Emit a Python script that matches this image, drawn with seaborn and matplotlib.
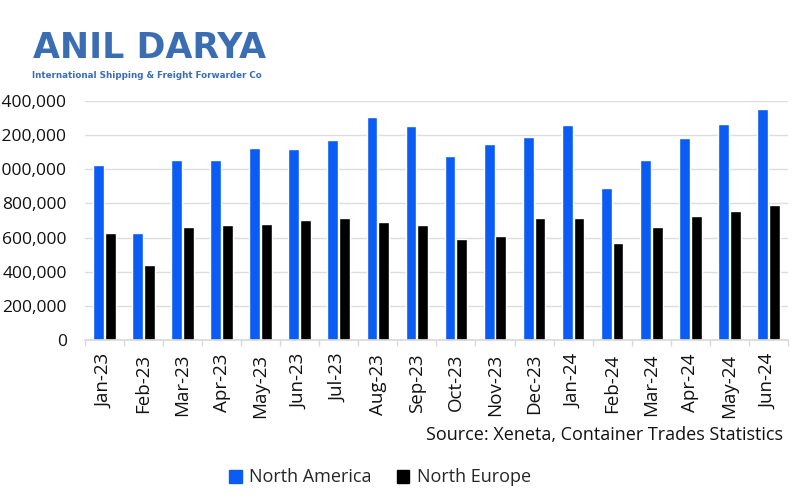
import matplotlib
matplotlib.use("Agg")
import matplotlib.pyplot as plt
import seaborn as sns
import pandas as pd
from matplotlib.ticker import FuncFormatter
from matplotlib.patches import Patch

months = ["Jan-23", "Feb-23", "Mar-23", "Apr-23", "May-23", "Jun-23", "Jul-23", "Aug-23",
          "Sep-23", "Oct-23", "Nov-23", "Dec-23", "Jan-24", "Feb-24", "Mar-24", "Apr-24",
          "May-24", "Jun-24"]
north_america = [1025000, 627000, 1054000, 1054000, 1125000, 1119000, 1172000, 1306000,
                 1254000, 1078000, 1148000, 1191000, 1261000, 890000, 1054000, 1181000,
                 1265000, 1353000]
north_europe = [629000, 437000, 660000, 674000, 678000, 703000, 713000, 689000,
                674000, 590000, 609000, 713000, 713000, 566000, 660000, 728000,
                757000, 793000]
series = ["North America", "North Europe"]
colors = ["#0b5cf5", "#000000"]

df = pd.DataFrame({
    "month": months * 2,
    "value": north_america + north_europe,
    "series": [series[0]] * len(months) + [series[1]] * len(months),
})

sns.set_theme(style="white")
plt.rcParams["font.family"] = ["Open Sans", "DejaVu Sans"]

fig = plt.figure(figsize=(8, 5), dpi=100)
ax = fig.add_axes([0.106, 0.32, 0.879, 0.478])

sns.barplot(data=df, x="month", y="value", hue="series", palette=colors,
            width=0.6, gap=0.08, saturation=1, ax=ax, legend=False)

ax.set_ylim(0, 1400000)
ax.set_yticks(range(0, 1400001, 200000))
ax.yaxis.set_major_formatter(FuncFormatter(lambda v, p: f"{int(v):,}"))
ax.yaxis.grid(True, color="#dddddd", linewidth=1)
ax.set_axisbelow(True)
ax.set_xlim(-0.5, len(months) - 0.5)
for s in ["top", "right", "left"]:
    ax.spines[s].set_visible(False)
ax.spines["bottom"].set_color("#d9d9d9")
ax.set_xlabel("")
ax.set_ylabel("")
ax.tick_params(axis="y", labelsize=12.5, length=0, pad=13, labelcolor="#111111")
ax.tick_params(axis="x", labelsize=13.5, length=0, pad=10, labelcolor="#111111", rotation=90)
ax.set_xticks([i - 0.5 for i in range(len(months) + 1)], minor=True)
ax.tick_params(axis="x", which="minor", length=4, color="#d9d9d9", width=1, bottom=True)

fig.text(0.979, 0.13, "Source: Xeneta, Container Trades Statistics", ha="right", va="center",
         fontsize=13, color="#111111")

handles = [Patch(facecolor=c, edgecolor=c) for c in colors]
fig.legend(handles, series, loc="center", bbox_to_anchor=(0.475, 0.045), ncol=2, frameon=False,
           fontsize=13, handlelength=0.7, handleheight=0.7, handletextpad=0.4, columnspacing=1.4)

fig.text(0.041, 0.905, "ANIL DARYA", fontsize=25, fontweight="bold", color="#3b6db3",
         ha="left", va="center", family=["DejaVu Sans"])
fig.text(0.040, 0.85, "International Shipping & Freight Forwarder Co", fontsize=6.3,
         fontweight="bold", color="#3b6db3", ha="left", va="center", family=["DejaVu Sans"])

fig.savefig("out.png", dpi=100)
